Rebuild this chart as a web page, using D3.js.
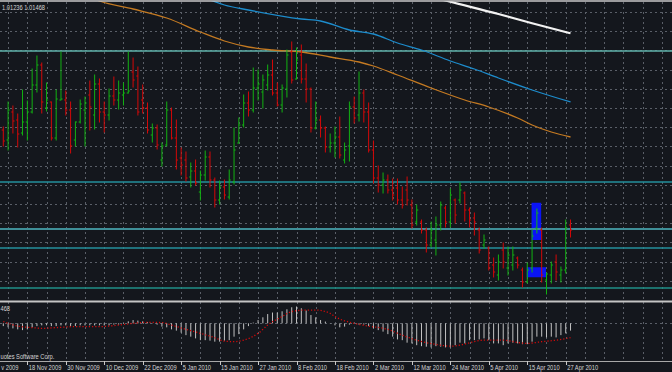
<!DOCTYPE html>
<html><head><meta charset="utf-8">
<script src="https://cdn.jsdelivr.net/npm/d3@7"></script>
<style>html,body{margin:0;padding:0;background:#14171d;overflow:hidden}</style>
</head><body><svg id="c" width="672" height="372"></svg>
<script>
// ---- data (USDCAD daily, 11 Nov 2009 .. 28 Apr 2010) ----
const barOpen = [1.0480,1.0440,1.0552,1.0520,1.0468,1.0512,1.0552,1.0660,1.0740,1.0568,
1.0592,1.0448,1.0600,1.0600,1.0560,1.0440,1.0512,1.0560,1.0620,1.0540,
1.0664,1.0552,1.0540,1.0616,1.0600,1.0620,1.0628,1.0712,1.0696,1.0600,
1.0568,1.0460,1.0488,1.0360,1.0420,1.0560,1.0448,1.0368,1.0360,1.0292,
1.0316,1.0232,1.0300,1.0372,1.0280,1.0200,1.0252,1.0212,1.0272,1.0428,
1.0500,1.0588,1.0560,1.0648,1.0632,1.0660,1.0700,1.0628,1.0580,1.0644,
1.0792,1.0684,1.0780,1.0684,1.0644,1.0488,1.0520,1.0488,1.0412,1.0428,
1.0452,1.0360,1.0416,1.0572,1.0540,1.0628,1.0552,1.0400,1.0288,1.0260,
1.0280,1.0240,1.0248,1.0200,1.0240,1.0180,1.0112,1.0112,1.0080,1.0020,
1.0040,1.0100,1.0168,1.0112,1.0200,1.0200,1.0228,1.0160,1.0128,1.0080,
1.0020,1.0008,0.9940,0.9900,1.0000,0.9928,0.9940,0.9968,0.9920,0.9872,
0.9928,1.0088,1.0080,0.9880,0.9900,0.9952,0.9900,0.9920,1.0100];
const barHigh = [1.0492,1.0592,1.0576,1.0544,1.0640,1.0596,1.0724,1.0776,1.0748,1.0668,
1.0592,1.0640,1.0792,1.0636,1.0592,1.0512,1.0600,1.0612,1.0676,1.0700,
1.0684,1.0592,1.0644,1.0692,1.0676,1.0668,1.0792,1.0768,1.0732,1.0660,
1.0588,1.0504,1.0500,1.0428,1.0592,1.0568,1.0520,1.0408,1.0392,1.0348,
1.0360,1.0316,1.0396,1.0392,1.0288,1.0276,1.0280,1.0320,1.0488,1.0528,
1.0620,1.0632,1.0728,1.0720,1.0700,1.0740,1.0760,1.0668,1.0660,1.0800,
1.0832,1.0808,1.0820,1.0744,1.0648,1.0592,1.0536,1.0492,1.0464,1.0492,
1.0532,1.0428,1.0592,1.0612,1.0712,1.0640,1.0588,1.0436,1.0336,1.0308,
1.0300,1.0284,1.0284,1.0252,1.0292,1.0200,1.0180,1.0120,1.0088,1.0112,
1.0132,1.0192,1.0176,1.0244,1.0204,1.0268,1.0232,1.0168,1.0148,1.0088,
1.0060,1.0012,0.9968,0.9980,1.0028,1.0012,1.0012,0.9972,0.9928,0.9948,
1.0080,1.0164,1.0088,0.9908,0.9952,0.9980,0.9932,1.0120,1.0120];
const barLow = [1.0416,1.0400,1.0468,1.0412,1.0460,1.0440,1.0548,1.0632,1.0548,1.0556,
1.0440,1.0440,1.0600,1.0540,1.0388,1.0416,1.0508,1.0416,1.0480,1.0484,
1.0512,1.0472,1.0520,1.0580,1.0564,1.0580,1.0628,1.0652,1.0540,1.0548,
1.0468,1.0432,1.0404,1.0336,1.0416,1.0444,1.0324,1.0300,1.0276,1.0252,
1.0260,1.0200,1.0280,1.0252,1.0172,1.0184,1.0204,1.0204,1.0264,1.0428,
1.0492,1.0536,1.0552,1.0600,1.0568,1.0640,1.0620,1.0576,1.0552,1.0612,
1.0668,1.0684,1.0668,1.0592,1.0472,1.0484,1.0452,1.0392,1.0392,1.0372,
1.0368,1.0348,1.0356,1.0508,1.0516,1.0512,1.0392,1.0268,1.0232,1.0228,
1.0228,1.0200,1.0184,1.0168,1.0180,1.0088,1.0100,1.0068,0.9992,1.0012,
0.9980,1.0080,1.0092,1.0092,1.0108,1.0188,1.0116,1.0092,1.0060,0.9988,
1.0008,0.9920,0.9892,0.9880,0.9928,0.9900,0.9920,0.9928,0.9852,0.9868,
0.9912,1.0068,0.9872,0.9824,0.9868,0.9880,0.9872,0.9908,1.0052];
const barClose = [1.0436,1.0560,1.0516,1.0464,1.0512,1.0552,1.0660,1.0740,1.0592,1.0600,
1.0448,1.0604,1.0604,1.0560,1.0416,1.0512,1.0584,1.0588,1.0572,1.0664,
1.0552,1.0540,1.0616,1.0600,1.0628,1.0628,1.0636,1.0680,1.0552,1.0568,
1.0480,1.0488,1.0420,1.0416,1.0560,1.0448,1.0360,1.0340,1.0288,1.0316,
1.0268,1.0300,1.0372,1.0280,1.0200,1.0252,1.0220,1.0280,1.0400,1.0500,
1.0588,1.0560,1.0648,1.0664,1.0680,1.0700,1.0628,1.0580,1.0648,1.0780,
1.0680,1.0760,1.0684,1.0644,1.0488,1.0520,1.0488,1.0412,1.0428,1.0452,
1.0380,1.0400,1.0572,1.0528,1.0628,1.0552,1.0400,1.0288,1.0260,1.0280,
1.0240,1.0220,1.0200,1.0180,1.0200,1.0100,1.0160,1.0080,1.0020,1.0080,
1.0100,1.0180,1.0112,1.0220,1.0140,1.0240,1.0160,1.0120,1.0112,1.0000,
1.0040,0.9928,0.9912,0.9952,0.9952,0.9980,0.9980,0.9940,0.9872,0.9920,
1.0056,1.0148,0.9900,0.9904,0.9940,0.9912,0.9920,1.0088,1.0080];

// moving averages: [bar index, price]
const maWhite  = [[90,1.1008],[93,1.0993],[103,1.0944],[110,1.0907],[118,1.0867]];
const maBlue   = [[41,1.1012],[43,1.1000],[46,1.0980],[51,1.0960],[62,1.0924],[66,1.0916],[72,1.0880],[77,1.0864],[82,1.0828],[87,1.0800],[93,1.0756],[98,1.0724],[103,1.0688],[110,1.0640],[118,1.0592]];
const maOrange = [[18,1.1012],[20,1.0996],[27,1.0964],[34,1.0928],[41,1.0872],[46,1.0836],[51,1.0812],[56,1.0800],[62,1.0792],[68,1.0772],[74,1.0752],[77,1.0736],[82,1.0700],[89,1.0648],[96,1.0600],[101,1.0572],[107,1.0528],[110,1.0500],[114,1.0472],[118,1.0452]];

// horizontal level lines (prices)
const levelPrices = [1.0796, 1.0272, 1.0084, 1.0008, 0.9848];

// rectangles (bar index span and price span)
const boxStart = [110, 109];
const boxEnd = [112, 113];
const boxTop = [1.0189, 0.9931];
const boxBottom = [1.0040, 0.9891];

// MACD histogram, one per bar
const macdHist = [-0.0011,-0.0016,-0.0020,-0.0024,-0.0027,-0.0024,-0.0016,-0.0011,-0.0008,-0.0008,
-0.0011,-0.0011,-0.0008,-0.0008,-0.0011,-0.0011,-0.0008,-0.0008,-0.0008,-0.0008,
-0.0008,-0.0008,-0.0008,-0.0005,-0.0005,-0.0002,0.0008,0.0013,0.0011,0.0008,
0.0005,0.0001,-0.0005,-0.0013,-0.0016,-0.0024,-0.0029,-0.0037,-0.0047,-0.0053,
-0.0060,-0.0067,-0.0067,-0.0069,-0.0073,-0.0073,-0.0069,-0.0067,-0.0053,-0.0043,
-0.0024,-0.0011,0.0003,0.0013,0.0024,0.0037,0.0043,0.0043,0.0048,0.0056,
0.0064,0.0067,0.0060,0.0051,0.0033,0.0024,0.0013,0.0007,-0.0001,-0.0008,
-0.0016,-0.0013,-0.0005,0.0000,-0.0005,-0.0005,-0.0011,-0.0020,-0.0027,-0.0033,
-0.0043,-0.0053,-0.0064,-0.0067,-0.0077,-0.0080,-0.0087,-0.0091,-0.0093,-0.0096,
-0.0091,-0.0093,-0.0096,-0.0096,-0.0087,-0.0077,-0.0080,-0.0067,-0.0067,-0.0064,
-0.0060,-0.0067,-0.0080,-0.0080,-0.0087,-0.0080,-0.0077,-0.0080,-0.0083,-0.0083,
-0.0073,-0.0053,-0.0053,-0.0056,-0.0053,-0.0056,-0.0047,-0.0040,-0.0029];
// MACD signal line: [bar index, value]
const macdSignal = [[0,0.0007],[1,0.0000],[3,-0.0011],[6,-0.0017],[8,-0.0020],[11,-0.0017],[15,-0.0013],[20,-0.0013],[24,-0.0007],[27,0.0000],[30,0.0004],[33,0.0003],[35,-0.0007],[38,-0.0024],[41,-0.0040],[44,-0.0057],[46,-0.0071],[48,-0.0073],[50,-0.0067],[53,-0.0040],[55,-0.0007],[58,0.0027],[60,0.0047],[63,0.0053],[65,0.0053],[68,0.0040],[69,0.0027],[73,0.0000],[76,-0.0011],[80,-0.0024],[83,-0.0047],[86,-0.0067],[90,-0.0084],[93,-0.0091],[95,-0.0087],[97,-0.0077],[100,-0.0067],[104,-0.0067],[107,-0.0076],[109,-0.0080],[112,-0.0073],[115,-0.0067],[118,-0.0057]];

// date axis labels (the first one is only partly visible in the original: "v 2009")
const dateLabels = ["v 2009","18 Nov 2009","30 Nov 2009","10 Dec 2009","22 Dec 2009","5 Jan 2010","15 Jan 2010","27 Jan 2010","8 Feb 2010","18 Feb 2010","2 Mar 2010","12 Mar 2010","24 Mar 2010","5 Apr 2010","15 Apr 2010","27 Apr 2010"];
const dateLabelBars = [-3,5,13,21,29,37,45,53,61,69,77,85,93,101,109,117];

const headerText = "1.01236 1.01468";
const indicatorText = "468";
const copyrightText = "uotes Software Corp.";

// ---- drawing ----
const W = 672, H = 372;
const svg = d3.select("#c");
const x = d3.scaleLinear().domain([0, 118]).range([3.3, 3.3 + 118 * 4.807]);
const y = d3.scaleLinear().domain([0.98, 1.10]).range([300, 0]);
const ym = d3.scaleLinear().domain([-0.0150, 0.0085]).range([361, 302]);

svg.append("rect").attr("width", W).attr("height", H).attr("fill", "#14171d");
svg.append("defs").append("clipPath").attr("id", "mainClip")
  .append("rect").attr("x", 0).attr("y", 1).attr("width", W).attr("height", 300);

const gridColor = "#5a5f68";
// vertical grid every 4 bars
const vIdx = d3.range(1, 140, 4);
svg.append("g").selectAll("line").data(vIdx).join("line")
  .attr("x1", d => Math.round(x(d)) + 0.5).attr("x2", d => Math.round(x(d)) + 0.5)
  .attr("y1", 2).attr("y2", 361)
  .attr("stroke", gridColor).attr("stroke-width", 1).attr("stroke-dasharray", "2,3");
// horizontal grid in main panel
const gridStep = 0.00768;
const hPrices = d3.range(0, 15).map(k => 1.0952 - k * gridStep);
svg.append("g").selectAll("line").data(hPrices).join("line")
  .attr("x1", 0).attr("x2", W)
  .attr("y1", d => Math.round(y(d)) + 0.5).attr("y2", d => Math.round(y(d)) + 0.5)
  .attr("stroke", gridColor).attr("stroke-width", 1).attr("stroke-dasharray", "2,3");

const main = svg.append("g").attr("clip-path", "url(#mainClip)");

// rectangles
main.append("g").selectAll("rect").data(boxStart).join("rect")
  .attr("x", (d, i) => x(d) - 0.5)
  .attr("width", (d, i) => x(boxEnd[i]) - x(d))
  .attr("y", (d, i) => y(boxTop[i]))
  .attr("height", (d, i) => y(boxBottom[i]) - y(boxTop[i]))
  .attr("fill", "#0a14f5");

// level lines
const levelColor = ["#5fb3ab", "#23909c", "#3f8f98", "#23909c", "#1f9088"];
const levelWidth = [1.3, 1.5, 2.2, 1.3, 1.6];
main.append("g").selectAll("line").data(levelPrices).join("line")
  .attr("x1", 0).attr("x2", W)
  .attr("y1", d => y(d)).attr("y2", d => y(d))
  .attr("stroke", (d, i) => levelColor[i]).attr("stroke-width", (d, i) => levelWidth[i]);

// moving averages
const maLine = d3.line().x(d => x(d[0])).y(d => y(d[1])).curve(d3.curveMonotoneX);
main.append("path").datum(maOrange).attr("d", maLine).attr("fill", "none")
  .attr("stroke", "#c47a22").attr("stroke-width", 1.3);
main.append("path").datum(maBlue).attr("d", maLine).attr("fill", "none")
  .attr("stroke", "#1d8ccc").attr("stroke-width", 1.3);
main.append("path").datum(maWhite).attr("d", maLine).attr("fill", "none")
  .attr("stroke", "#f2f2f2").attr("stroke-width", 2.2);

// OHLC bars
const up = "#12b212", down = "#d40808";
const bars = main.append("g").selectAll("g").data(barOpen).join("g")
  .attr("stroke", (d, i) => barClose[i] >= barOpen[i] ? up : down)
  .attr("stroke-width", 1);
bars.append("line")
  .attr("x1", (d, i) => x(i)).attr("x2", (d, i) => x(i))
  .attr("y1", (d, i) => y(barHigh[i]) - 0.5).attr("y2", (d, i) => y(barLow[i]) + 0.5);
bars.append("line")
  .attr("x1", (d, i) => x(i) - 1.6).attr("x2", (d, i) => x(i))
  .attr("y1", (d, i) => y(barOpen[i])).attr("y2", (d, i) => y(barOpen[i]));
bars.append("line")
  .attr("x1", (d, i) => x(i)).attr("x2", (d, i) => x(i) + 1.6)
  .attr("y1", (d, i) => y(barClose[i])).attr("y2", (d, i) => y(barClose[i]));

// borders
svg.append("line").attr("x1", 0).attr("x2", W).attr("y1", 1).attr("y2", 1)
  .attr("stroke", "#c8c8c8").attr("stroke-width", 1.5);
svg.append("line").attr("x1", 0).attr("x2", W).attr("y1", 301.6).attr("y2", 301.6)
  .attr("stroke", "#c4c4c4").attr("stroke-width", 2);
svg.append("line").attr("x1", 0).attr("x2", W).attr("y1", 361.5).attr("y2", 361.5)
  .attr("stroke", "#a8a8a8").attr("stroke-width", 1);

// MACD panel
svg.append("line").attr("x1", 0).attr("x2", W).attr("y1", Math.round(ym(0)) + 0.5).attr("y2", Math.round(ym(0)) + 0.5)
  .attr("stroke", gridColor).attr("stroke-dasharray", "2,3");
svg.append("g").selectAll("line").data(macdHist).join("line")
  .attr("x1", (d, i) => x(i)).attr("x2", (d, i) => x(i))
  .attr("y1", ym(0)).attr("y2", d => ym(d))
  .attr("stroke", "#c2c2c2").attr("stroke-width", 1);
svg.append("path").datum(macdSignal)
  .attr("d", d3.line().x(d => x(d[0])).y(d => ym(d[1])).curve(d3.curveMonotoneX))
  .attr("fill", "none").attr("stroke", "#d40a0a").attr("stroke-width", 1.3)
  .attr("stroke-dasharray", "1.2,2");

// texts
const font = "'Liberation Sans', Arial, sans-serif";
function sText(tx, ty, str, anchor) {
  svg.append("text").attr("transform", `translate(${tx},${ty}) scale(0.82,1)`)
    .attr("font-family", font).attr("font-size", 7).attr("fill", "#d4d4d4")
    .attr("text-anchor", anchor || "start").text(str);
}
sText(2, 9.5, headerText);
sText(0.5, 311, indicatorText);
sText(0.5, 358.5, copyrightText);

// date axis
const axis = svg.append("g");
axis.selectAll("line").data(dateLabelBars.filter(b => x(b) > 0)).join("line")
  .attr("x1", d => Math.round(x(d)) + 0.5).attr("x2", d => Math.round(x(d)) + 0.5)
  .attr("y1", 361).attr("y2", 365).attr("stroke", "#c8c8c8");
dateLabelBars.forEach((b, i) => {
  if (x(b) > 0) sText(x(b) + 1.5, 370, dateLabels[i]);
  else sText(18.5, 370, dateLabels[i], "end");
});
</script></body></html>
